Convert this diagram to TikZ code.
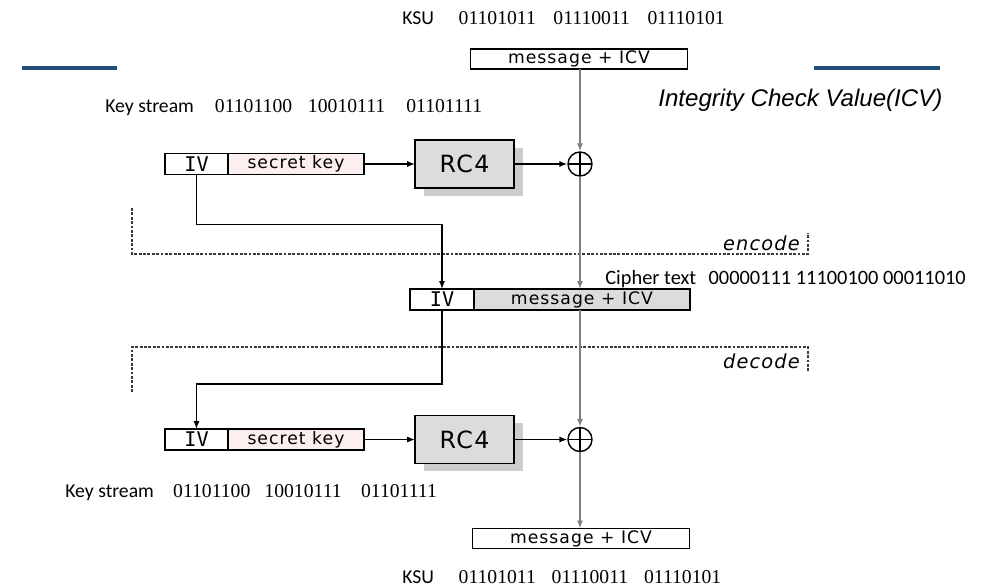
\documentclass[tikz,border=0pt]{standalone}
\usepackage{fontspec}
\setmainfont{Carlito}
\newfontfamily\bitfont{Liberation Serif}
\newfontfamily\boxfont[LetterSpace=6]{DejaVu Sans}
\newfontfamily\ivfont{DejaVu Sans Mono}
\newfontfamily\icvfont{Liberation Sans}
\usetikzlibrary{arrows.meta,positioning,shadows}

\definecolor{barblue}{HTML}{1F4E79}
\definecolor{boxgray}{HTML}{DCDCDC}
\definecolor{linegray}{HTML}{808080}
\definecolor{dashgray}{HTML}{3A3A3A}
\definecolor{keypink}{HTML}{FBEFEF}

\tikzset{
  bar/.style={line width=2.3pt, barblue},
  labeltext/.style={anchor=base west, inner sep=0pt, font=\fontsize{11.2}{13}\selectfont},
  msgbox/.style={draw, line width=0.8pt, minimum width=4.34cm, minimum height=0.4cm,
    inner sep=0pt, outer sep=0pt, font=\boxfont\fontsize{9.8}{10}\selectfont},
  ivbox/.style={draw, line width=0.8pt, minimum width=1.26cm, minimum height=0.42cm,
    inner sep=0pt, outer sep=0pt, font=\ivfont\fontsize{11.5}{11}\selectfont},
  skbox/.style={draw, line width=0.8pt, fill=keypink, minimum width=2.72cm, minimum height=0.42cm,
    inner sep=0pt, outer sep=0pt, font=\boxfont\fontsize{9.8}{10}\selectfont},
  rcbox/.style={draw, line width=0.9pt, fill=boxgray, minimum width=1.98cm, minimum height=0.96cm,
    inner sep=0pt, outer sep=0pt, font=\boxfont\fontsize{13.5}{14}\selectfont,
    general shadow={fill=gray!40, shadow xshift=5pt, shadow yshift=-4.5pt}},
  xorsym/.style={circle, draw, line width=0.8pt, minimum size=0.48cm, inner sep=0pt,
    path picture={\draw[line width=0.8pt] (path picture bounding box.north) -- (path picture bounding box.south)
      (path picture bounding box.west) -- (path picture bounding box.east);}},
  msgline/.style={linegray, line width=0.9pt},
  ivline/.style={black, line width=0.8pt},
  sepline/.style={dashgray, line width=1pt, dash pattern=on 1.6pt off 0.9pt},
  modetext/.style={anchor=base east, inner sep=0pt, font=\boxfont\itshape\fontsize{11}{12}\selectfont}
}

\begin{document}
\begin{tikzpicture}[x=0.02cm, y=-0.02cm, >={Latex[length=4.5pt,width=3.5pt]}]
    \useasboundingbox (0,0) rectangle (997,587);
    \draw[bar] (22,68) -- (117,68);
    \draw[bar] (814,68) -- (940,68);

    \node[labeltext] (ksuTop) at (402,25) {KSU\hspace{14pt}{\bitfont 01101011\hspace{10pt}01110011\hspace{10pt}01110101}};
    \node[msgbox] (msgTop) at (579,59) {message + ICV};
    \node[labeltext] (keyTop) at (105,113) {Key stream\hspace{12pt}{\bitfont 01101100\hspace{9pt}10010111\hspace{12pt}01101111}};
    \node[labeltext, font=\icvfont\itshape\fontsize{13.7}{15}\selectfont] (icv) at (658,107) {Integrity Check Value(ICV)};

    \node[ivbox] (ivA) at (196.5,164) {IV};
    \node[skbox, right=0pt of ivA] (skA) {secret key};
    \node[rcbox] (rcA) at (464.5,164) {RC4};
    \node[xorsym] (xorA) at (580,164) {};
    \draw[ivline, ->] (skA.east) -- (rcA.west);
    \draw[ivline, ->] (rcA.east) -- (xorA.west);
    \draw[msgline, ->] (msgTop.south -| xorA.north) -- (xorA.north);

    \draw[sepline] (132,208) -- (132,254) -- (808,254) -- (808,233);
    \node[modetext] (enc) at (800,251) {encode};

    \node[labeltext, font=\fontsize{11.6}{13}\selectfont] (cipher) at (605,285) {Cipher text\hspace{7pt}00000111 11100100 00011010};
    \node[ivbox, minimum width=1.28cm] (ivB) at (442,299.5) {IV};
    \node[msgbox, fill=boxgray, minimum width=4.32cm, minimum height=0.42cm, right=0pt of ivB] (msgB) {message + ICV};
    \draw[ivline, ->] (ivA.south) -- ++(0,50) -| (ivB.north);
    \draw[msgline, ->] (xorA.south) -- (xorA.south |- msgB.north);

    \draw[sepline] (132,392) -- (132,347) -- (808,347) -- (808,372);
    \node[modetext] (dec) at (800,369) {decode};

    \node[ivbox] (ivC) at (196.5,439.5) {IV};
    \node[skbox, right=0pt of ivC] (skC) {secret key};
    \node[rcbox] (rcC) at (464.5,439.5) {RC4};
    \node[xorsym] (xorC) at (580,439.5) {};
    \draw[ivline, ->] (ivB.south) -- ++(0,74) -| (ivC.north);
    \draw[ivline, ->] (skC.east) -- (rcC.west);
    \draw[ivline, ->] (rcC.east) -- (xorC.west);
    \draw[msgline, ->] (msgB.south -| xorC.north) -- (xorC.north);

    \node[labeltext] (keyBot) at (65,497) {Key stream\hspace{11pt}{\bitfont 01101100\hspace{8pt}10010111\hspace{11pt}01101111}};
    \node[msgbox] (msgBot) at (581,538.5) {message + ICV};
    \draw[msgline, ->] (xorC.south) -- (xorC.south |- msgBot.north);
    \node[labeltext] (ksuBot) at (402,583) {KSU\hspace{14pt}{\bitfont 01101011\hspace{9pt}01110011\hspace{9pt}01110101}};
\end{tikzpicture}
\end{document}
